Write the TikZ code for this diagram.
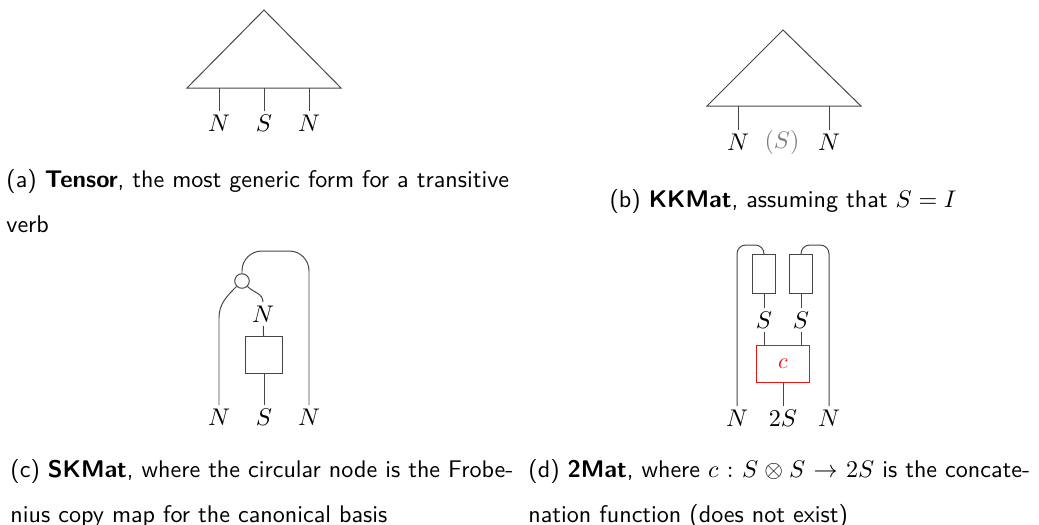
\documentclass[tikz,border=0pt]{standalone}
\usepackage{xcolor}
\usepackage{amsmath}
\usepackage{amssymb}
\usetikzlibrary{positioning, calc}
\definecolor{diaggray}{RGB}{70, 70, 70}
\definecolor{diagred}{RGB}{235, 20, 20}
\tikzset{
  wire/.style={draw=diaggray, line width=0.45pt},
  morphbox/.style={
    rectangle, draw=diaggray, line width=0.45pt, inner sep=0pt
  },
  frobdot/.style={
    circle, draw=diaggray, line width=0.45pt, inner sep=0pt, minimum size=6.6pt
  },
  lbl/.style={inner sep=1.5pt, font={\fontsize{10.95pt}{13.6pt}\selectfont}},
  capt/.style={
    anchor=north west, inner sep=0pt, text width=228pt, align=left,
    font={\sffamily\fontsize{10.95pt}{20.45pt}\selectfont}
  },
}
% first caption line, spread to the full width
\newcommand{\fullline}[1]{\makebox[228pt][s]{#1}}

\begin{document}
\begin{tikzpicture}[
  x=0.4545pt, y=-0.4545pt,
  smallbox/.style={morphbox, minimum width=10.4pt, minimum height=17.3pt},
  concat/.style={morphbox, draw=diagred, text=diagred, minimum width=24pt, minimum height=16.8pt}
]
\useasboundingbox (0,0) rectangle (1039,524);

% ── (a) Tensor ────────────────────────────────────────────
\draw[wire] (187,88) -- (264,10) -- (341,88) -- cycle;
\coordinate (a1) at (219,88);
\coordinate (a2) at (264,88);
\coordinate (a3) at (309,88);
\node[lbl] (aN1) at (219,123) {$N$};
\node[lbl] (aS)  at (264,123) {$S$};
\node[lbl] (aN2) at (309,123) {$N$};
\draw[wire] (a1) -- (aN1);
\draw[wire] (a2) -- (aS);
\draw[wire] (a3) -- (aN2);

\node[capt] (capa) at (6,169) {\fullline{(a) \textbf{Tensor}, the most generic form for a transitive}\\ verb};

% ── (b) KKMat ─────────────────────────────────────────────
\draw[wire] (707,106) -- (783,30) -- (861,106) -- cycle;
\coordinate (b1) at (738,106);
\coordinate (b3) at (829,106);
\node[lbl] (bN1) at (738,142) {$N$};
\node[lbl, text=black!50] (bS) at (782,142) {$(S)$};
\node[lbl] (bN2) at (829,142) {$N$};
\draw[wire] (b1) -- (bN1);
\draw[wire] (b3) -- (bN2);

\node[capt, anchor=base, text width=] (capb) at (783,207) {(b) \textbf{KKMat}, assuming that $S = I$};

% ── (c) SKMat ─────────────────────────────────────────────
\node[frobdot] (frob) at (242,281) {};
\node[lbl] (cNm) at (263,314) {$N$};
\node[morphbox, minimum width=16.8pt, minimum height=16.8pt] (cbox) at (264,355) {};
\node[lbl] (cN1) at (219,417) {$N$};
\node[lbl] (cS)  at (264,417) {$S$};
\node[lbl] (cN2) at (309,417) {$N$};

\draw[wire] (frob.225) to[out=225, in=90] (219,318) -- (cN1);
\draw[wire] (frob.-45) to[out=-45, in=90] (cNm.north);
\draw[wire] (cNm) -- (cbox);
\draw[wire] (cbox) -- (cS);
\draw[wire, rounded corners=9pt] (frob.north) |- (309,251) -- (cN2);

\node[capt] (capc) at (10,459) {\fullline{(c) \textbf{SKMat}, where the circular node is the Frobe-}\\ nius copy map for the canonical basis};

% ── (d) 2Mat ──────────────────────────────────────────────
\node[smallbox] (box1) at (764,274) {};
\node[smallbox] (box2) at (801,274) {};
\node[lbl] (dS1) at (764,320) {$S$};
\node[lbl] (dS2) at (801,320) {$S$};
\node[concat] (cat) at (783,364) {$c$};
\node[lbl] (dN1) at (737,418) {$N$};
\node[lbl] (d2S) at (783,418) {$2S$};
\node[lbl] (dN2) at (829,418) {$N$};

\draw[wire, rounded corners=4pt] (box1.north) |- (737,245) -- (dN1);
\draw[wire, rounded corners=4pt] (box2.north) |- (829,245) -- (dN2);
\draw[wire] (box1) -- (dS1);
\draw[wire] (box2) -- (dS2);
\draw[wire] (dS1) -- (dS1 |- cat.north);
\draw[wire] (dS2) -- (dS2 |- cat.north);
\draw[wire] (cat) -- (d2S);

\node[capt] (capd) at (528,459) {\fullline{(d) \textbf{2Mat}, where $c : S \otimes S \to 2S$ is the concate-}\\ nation function (does not exist)};

\end{tikzpicture}
\end{document}
